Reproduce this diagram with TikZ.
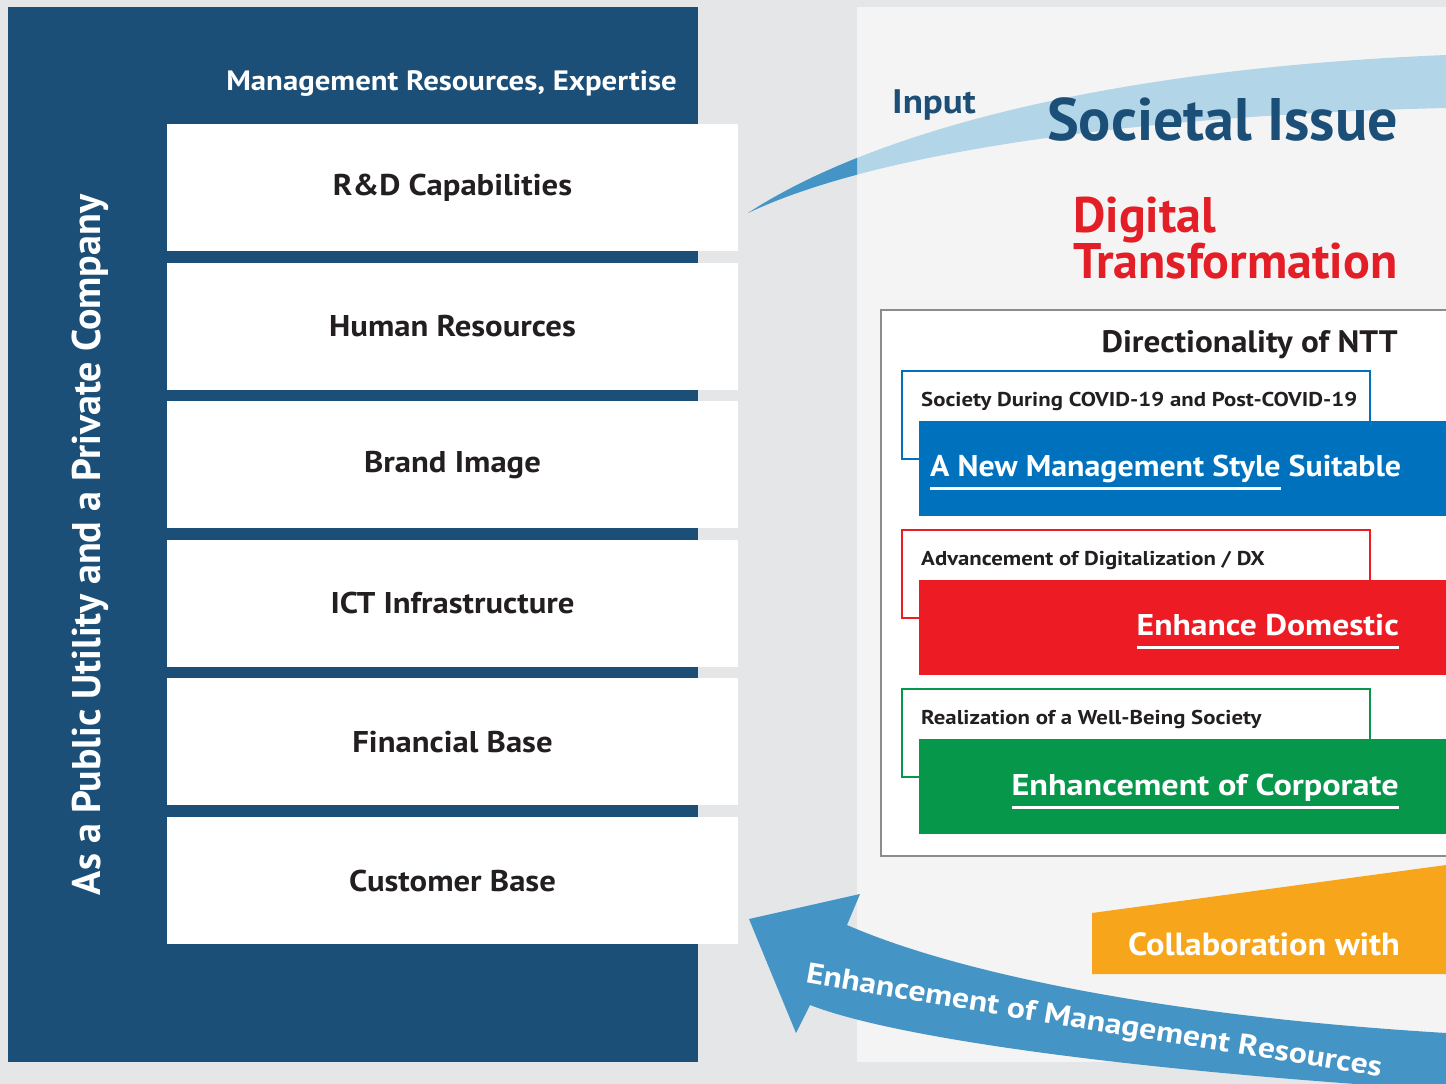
\documentclass[tikz,border=0pt]{standalone}
\usepackage{fontspec}
\setmainfont{PT Sans}
\usetikzlibrary{decorations.text}

\definecolor{bggray}{HTML}{E5E6E8}
\definecolor{navy}{HTML}{1B4F78}
\definecolor{panelgray}{HTML}{F4F4F4}
\definecolor{inlight}{HTML}{B3D5E8}
\definecolor{arrowblue}{HTML}{4494C6}
\definecolor{dirblue}{HTML}{0071BC}
\definecolor{dirred}{HTML}{ED1C24}
\definecolor{dirgreen}{HTML}{06974A}
\definecolor{collab}{HTML}{F7A61C}
\definecolor{dtred}{HTML}{E41E26}
\definecolor{ink}{HTML}{231F20}
\definecolor{framegray}{HTML}{8C8C8C}

\newcommand{\thickul}[1]{\setbox0\hbox{#1}\rlap{\rule[-13.5pt]{\wd0}{2.5pt}}\box0\relax}
\newcommand{\wide}[1]{\addfontfeature{FakeStretch=#1}}
\newcommand{\arrowfont}{\fontsize{29}{32}\selectfont\bfseries\wide{1.16}}

\tikzset{
  resbox/.style={fill=white, minimum width=571pt, minimum height=127pt, inner sep=0pt,
    text=ink, font=\fontsize{30}{36}\selectfont\bfseries\wide{1.09}},
  tagbox/.style={draw=#1, line width=1.2pt, fill=white},
  tagtext/.style={anchor=base west, inner sep=0pt, text=ink,
    font=\fontsize{20}{24}\selectfont\bfseries\wide{1.14}},
  goaltext/.style={inner sep=0pt, text=white, font=\fontsize{30}{36}\selectfont\bfseries\wide{#1}}
}

\begin{document}
\begin{tikzpicture}[x=1pt, y=-1pt]
  \fill[bggray] (0,0) rectangle (1446,1084);
  \useasboundingbox (0,0) rectangle (1446,1084);

  % left panel: resources
  \fill[navy] (8,7) rectangle (698,1062);
  \node[rotate=90, text=white, font=\fontsize{40}{48}\selectfont\bfseries] (role) at (90,545)
    {As a Public Utility and a Private Company};
  \node[anchor=base east, inner sep=0pt, text=white, font=\fontsize{28}{34}\selectfont\bfseries\wide{1.1}]
    (expertise) at (677,90) {Management Resources, Expertise};
  \foreach \name/\label [count=\i] in {rd/R\&D Capabilities, human/Human Resources,
      brand/Brand Image, ict/ICT Infrastructure, finance/Financial Base, customer/Customer Base}
    \node[resbox] (\name) at (452.5,{187.5+138.6*(\i-1)}) {\label};

  % right panel
  \fill[panelgray] (857,7) rectangle (1446,1062);
  \fill[inlight] (748,213) .. controls (860,140) and (1080,70) .. (1446,55)
    -- (1446,108) .. controls (1150,115) and (880,150) .. (748,213) -- cycle;
  \begin{scope}
    \clip (700,0) rectangle (857,300);
    \fill[arrowblue] (748,213) .. controls (860,140) and (1080,70) .. (1446,55)
      -- (1446,108) .. controls (1150,115) and (880,150) .. (748,213) -- cycle;
  \end{scope}
  \node[anchor=base west, inner sep=0pt, text=navy, font=\fontsize{34}{40}\selectfont\bfseries\wide{1.09}]
    (input) at (892,113) {Input};
  \node[anchor=base east, inner sep=0pt, text=navy, font=\fontsize{60}{70}\selectfont\bfseries]
    (issue) at (1398,140) {Societal Issue};
  \node[anchor=base west, inner sep=0pt, text=dtred, font=\fontsize{50}{56}\selectfont\bfseries]
    (digital) at (1073,232) {Digital};
  \node[anchor=base west, inner sep=0pt, text=dtred, font=\fontsize{50}{56}\selectfont\bfseries]
    (transformation) at (1073,278) {Transformation};

  % directionality of NTT
  \draw[framegray, line width=1.2pt, fill=white] (881,310) rectangle (1470,856);
  \node[anchor=base east, inner sep=0pt, text=ink, font=\fontsize{31}{36}\selectfont\bfseries\wide{1.07}]
    (ntt) at (1398,352) {Directionality of NTT};

  \draw[tagbox=dirblue] (902,371) rectangle (1370,459);
  \node[tagtext] (covid) at (921,406) {Society During COVID-19 and Post-COVID-19};
  \fill[dirblue] (919,421) rectangle (1470,516);
  \node[goaltext=1.065, anchor=base west] (style) at (930,476)
    {\thickul{A New Management Style} Suitable};

  \draw[tagbox=dirred] (902,530) rectangle (1370,618);
  \node[tagtext] (dx) at (921,565) {Advancement of Digitalization / DX};
  \fill[dirred] (919,580) rectangle (1470,675);
  \node[goaltext=1.12, anchor=base east] (domestic) at (1399,635) {\thickul{Enhance Domestic}};

  \draw[tagbox=dirgreen] (902,689) rectangle (1370,777);
  \node[tagtext] (wellbeing) at (921,724) {Realization of a Well-Being Society};
  \fill[dirgreen] (919,739) rectangle (1470,834);
  \node[goaltext=1.14, anchor=base east] (corporate) at (1399,795) {\thickul{Enhancement of Corporate}};

  % collaboration and feedback arrow
  \fill[collab] (1092,913) -- (1446,865) -- (1446,974) -- (1092,974) -- cycle;
  \node[anchor=base east, inner sep=0pt, text=white, font=\fontsize{32}{38}\selectfont\bfseries\wide{1.075}]
    (collabtext) at (1400,955) {Collaboration with};

  \fill[arrowblue] (749,919) -- (860,894) -- (847,925)
    .. controls (950,970) and (1150,1015) .. (1446,1033) -- (1446,1090)
    .. controls (1150,1072) and (900,1040) .. (810,1005) -- (796,1033) -- cycle;
  \path[decorate, decoration={text along path, text color=white,
      text={|\arrowfont|Enhancement of Management Resources}}]
    (805,982) .. controls (1000,1016) and (1200,1048) .. (1420,1083);
\end{tikzpicture}
\end{document}
